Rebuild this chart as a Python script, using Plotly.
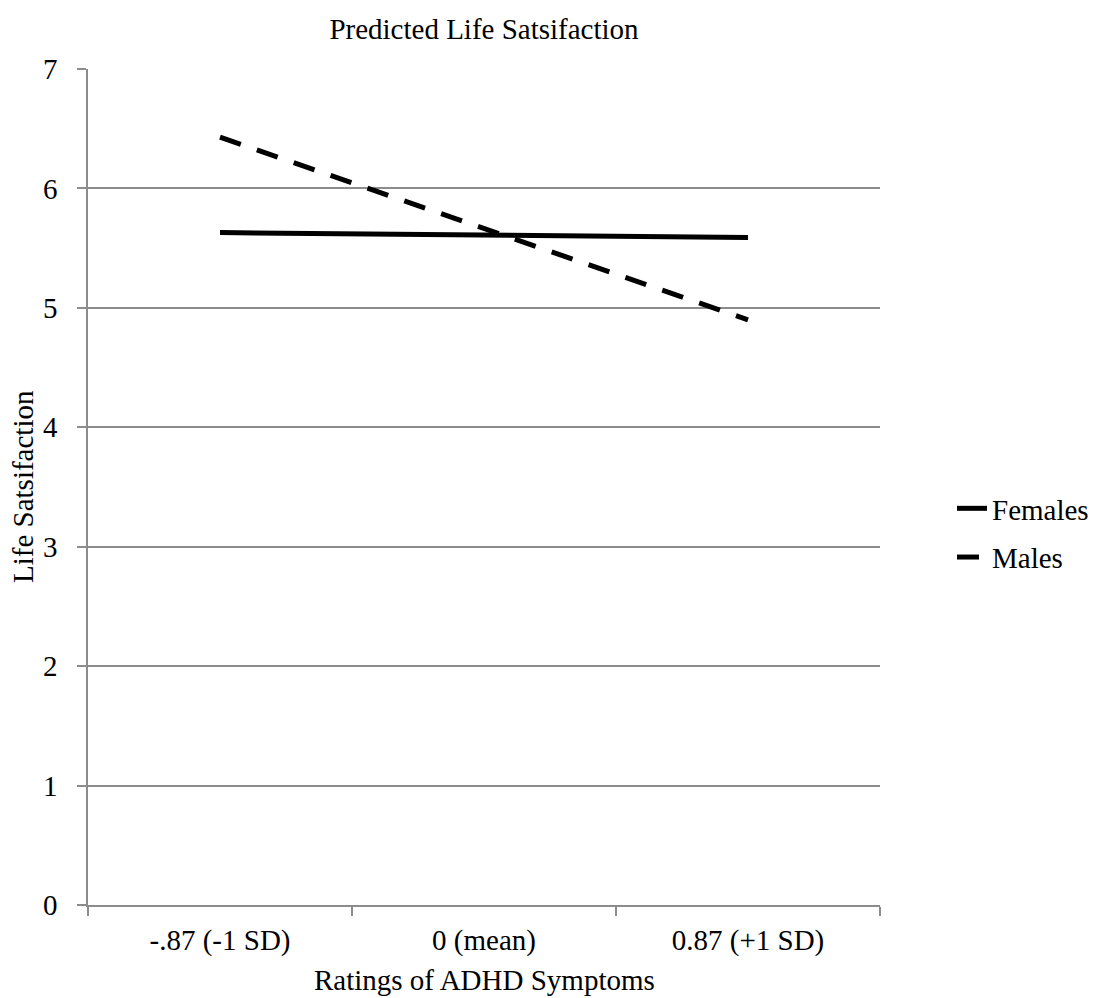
import plotly.graph_objects as go

categories = ["-.87 (-1 SD)", "0 (mean)", "0.87 (+1 SD)"]
females = [5.63, 5.61, 5.59]
males = [6.43, 5.665, 4.90]
y_ticks = [0, 1, 2, 3, 4, 5, 6, 7]

FONT = "Liberation Serif, Times New Roman, serif"
GRAY = "#8c8c8c"
FS = 29

# page has an 8px body margin; figure sized so it fits the 1099x998 window
W, H = 1091, 990
L, T, PW, PH = 80, 61, 792, 836

fig = go.Figure()
fig.add_trace(go.Scatter(x=categories, y=females, mode="lines", name="Females",
                         legendgroup="f",
                         line=dict(color="black", width=5)))
fig.add_trace(go.Scatter(x=categories, y=males, mode="lines", name="Males",
                         legendgroup="m",
                         line=dict(color="black", width=5, dash="22px,17px")))

fig.update_layout(
    width=W, height=H,
    margin=dict(l=L, r=W - L - PW, t=T, b=H - T - PH, autoexpand=False),
    paper_bgcolor="white", plot_bgcolor="white",
    font=dict(family=FONT, size=FS, color="black"),
    title=dict(text="Predicted Life Satsifaction", x=0.5, xref="paper",
               y=1 - 21 / H, yref="container", yanchor="middle", xanchor="center",
               font=dict(size=FS, color="black", family=FONT)),
    showlegend=True,
    legend=dict(x=(984 - 40 - 80) / PW, xanchor="left", y=0.445, yanchor="middle",
                tracegroupgap=8, font=dict(size=FS, family=FONT, color="black"),
                bgcolor="rgba(0,0,0,0)"),
    xaxis=dict(type="category", range=[-0.5, 2.5], tickson="boundaries",
               ticks="outside", ticklen=9, tickcolor=GRAY, tickwidth=1.5,
               showline=True, linecolor=GRAY, linewidth=1.5,
               showgrid=False, zeroline=False, automargin=False,
               ticklabelstandoff=8,
               tickfont=dict(size=FS, family=FONT, color="black")),
    yaxis=dict(range=[0, 7], tickvals=y_ticks, ticks="outside", ticklen=9,
               tickcolor=GRAY, tickwidth=1.5,
               showline=True, linecolor=GRAY, linewidth=1.5,
               showgrid=True, gridcolor=GRAY, gridwidth=1.5, zeroline=False,
               automargin=False, ticklabelstandoff=14,
               tickfont=dict(size=FS, family=FONT, color="black")),
)

fig.add_annotation(text="Ratings of ADHD Symptoms", xref="paper", yref="paper",
                   x=0.5, y=-(980 - 905) / PH, xanchor="center", yanchor="middle",
                   showarrow=False, font=dict(size=FS, family=FONT, color="black"))
fig.add_annotation(text="Life Satsifaction", xref="paper", yref="paper",
                   x=-(88 - 23) / PW, y=0.5, xanchor="center", yanchor="middle",
                   textangle=-90, showarrow=False,
                   font=dict(size=FS, family=FONT, color="black"))

fig.write_html("out.html")
